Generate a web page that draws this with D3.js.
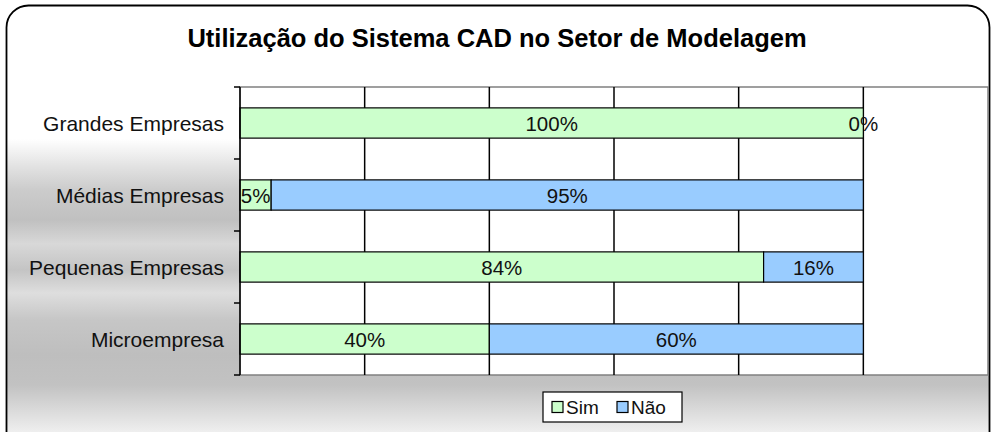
<!DOCTYPE html>
<html>
<head>
<meta charset="utf-8">
<script src="https://cdn.jsdelivr.net/npm/d3@7"></script>
<style>
  body { margin: 0; background: #fff; }
  svg { display: block; font-family: 'Liberation Sans', Arial, sans-serif; }
</style>
</head>
<body>
<div id="chart"></div>
<script>
// data
var categories = ['Grandes Empresas', 'Médias Empresas', 'Pequenas Empresas', 'Microempresa']
var sim = [1.00, 0.05, 0.84, 0.40]
var nao = [0.00, 0.95, 0.16, 0.60]
var seriesNames = ['Sim', 'Não']
var labelsSim = ['100%', '5%', '84%', '40%']
var labelsNao = ['0%', '95%', '16%', '60%']

var W = 993
var H = 432
var margin = { top: 87, left: 240, right: 5, bottom: 57 }
var width = 988 - margin.left
var height = 375 - margin.top

var colors = { Sim: '#ccffcc', 'Não': '#99ccff' }

var svg = d3.select('#chart').append('svg')
  .attr('width', W)
  .attr('height', H)

// background gradient (white top, grey banded lower part)
var defs = svg.append('defs')
var grad = defs.append('linearGradient')
  .attr('id', 'bg')
  .attr('x1', 0).attr('y1', 0).attr('x2', 0).attr('y2', 1)
var stops = [
  [0, '#ffffff'], [0.29, '#ffffff'], [0.35, '#e2e2e2'], [0.40, '#cccccc'],
  [0.466, '#c0c0c0'], [0.518, '#d8d8d8'], [0.575, '#c4c4c4'], [0.625, '#dedede'],
  [0.684, '#c6c6c6'], [0.76, '#bebebe'], [0.825, '#c2c2c2'], [0.93, '#f0f0f0'], [1, '#ffffff']
]
stops.forEach(s => grad.append('stop').attr('offset', s[0]).attr('stop-color', s[1]))

svg.append('rect')
  .attr('x', 6.5).attr('y', 5.5)
  .attr('width', 983).attr('height', 460)
  .attr('rx', 22).attr('ry', 22)
  .attr('fill', 'url(#bg)')
  .attr('stroke', '#000')
  .attr('stroke-width', 1.8)

// title
svg.append('text')
  .attr('x', 497)
  .attr('y', 47)
  .attr('text-anchor', 'middle')
  .attr('font-size', 25.5)
  .attr('font-weight', 'bold')
  .text('Utilização do Sistema CAD no Setor de Modelagem')

var g = svg.append('g')
  .attr('transform', 'translate(' + margin.left + ',' + margin.top + ')')

var x = d3.scaleLinear().domain([0, 1.2]).range([0, width])
var y = d3.scaleBand().domain(categories).range([0, height])
  .paddingInner(0.58).paddingOuter(0.29)

// plot area
g.append('rect')
  .attr('width', width).attr('height', height)
  .attr('fill', '#fff')
  .attr('stroke', '#808080')
  .attr('stroke-width', 1.5)

// gridlines
g.selectAll('.grid')
  .data([0.2, 0.4, 0.6, 0.8, 1.0])
  .enter().append('line')
  .attr('class', 'grid')
  .attr('x1', d => x(d)).attr('x2', d => x(d))
  .attr('y1', 0).attr('y2', height)
  .attr('stroke', '#000')
  .attr('stroke-width', 1.5)

// stacked data
var rows = categories.map((c, i) => ({ cat: c, Sim: sim[i], 'Não': nao[i], lSim: labelsSim[i], 'lNão': labelsNao[i] }))
var stacked = d3.stack().keys(seriesNames)(rows)

stacked.forEach(function(layer) {
  var key = layer.key
  g.selectAll('.bar-' + key)
    .data(layer)
    .enter().append('rect')
    .attr('x', d => x(d[0]))
    .attr('y', d => y(d.data.cat))
    .attr('width', d => x(d[1]) - x(d[0]))
    .attr('height', y.bandwidth())
    .attr('fill', colors[key])
    .attr('stroke', '#000')
    .attr('stroke-width', 1.2)
})

// labels on top of all bars
stacked.forEach(function(layer) {
  var key = layer.key
  g.selectAll('.lab-' + key)
    .data(layer)
    .enter().append('text')
    .attr('x', d => x((d[0] + d[1]) / 2))
    .attr('y', d => y(d.data.cat) + y.bandwidth() / 2 + 7.5)
    .attr('text-anchor', 'middle')
    .attr('font-size', 20.5)
    .attr('fill', '#111')
    .text(d => d.data['l' + key])
})

// y axis
var boundaries = d3.range(categories.length + 1).map(i => i * height / categories.length)
g.append('line')
  .attr('x1', 0).attr('x2', 0).attr('y1', 0).attr('y2', height)
  .attr('stroke', '#000').attr('stroke-width', 1.5)
g.selectAll('.tick')
  .data(boundaries)
  .enter().append('line')
  .attr('x1', -6).attr('x2', 0)
  .attr('y1', d => d).attr('y2', d => d)
  .attr('stroke', '#000').attr('stroke-width', 1.5)

g.selectAll('.cat')
  .data(categories)
  .enter().append('text')
  .attr('x', -16)
  .attr('y', d => y(d) + y.bandwidth() / 2 + 7.5)
  .attr('text-anchor', 'end')
  .attr('font-size', 21)
  .attr('fill', '#111')
  .text(d => d)

// legend
var legend = svg.append('g').attr('transform', 'translate(543,392)')
legend.append('rect')
  .attr('width', 139).attr('height', 30)
  .attr('fill', '#fff').attr('stroke', '#000').attr('stroke-width', 1.2)
var items = [{ name: 'Sim', x: 9 }, { name: 'Não', x: 74 }]
items.forEach(function(it) {
  legend.append('rect')
    .attr('x', it.x).attr('y', 9.5)
    .attr('width', 11).attr('height', 11)
    .attr('fill', colors[it.name]).attr('stroke', '#000').attr('stroke-width', 1.2)
  legend.append('text')
    .attr('x', it.x + 14).attr('y', 22)
    .attr('font-size', 19)
    .attr('fill', '#111')
    .text(it.name)
})
</script>
</body>
</html>
